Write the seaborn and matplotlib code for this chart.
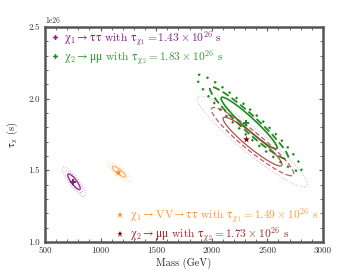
import numpy as np
import pandas as pd
import matplotlib
matplotlib.use("Agg")
import matplotlib.pyplot as plt
import seaborn as sns

sns.set_style("ticks")
plt.rcParams['font.family'] = ['cmr10', 'DejaVu Serif']
plt.rcParams['mathtext.fontset'] = 'custom'
plt.rcParams['mathtext.rm'] = 'cmr10'
plt.rcParams['mathtext.it'] = 'cmr10'
plt.rcParams['mathtext.default'] = 'rm'
plt.rcParams['mathtext.fallback'] = 'stix'
plt.rcParams['axes.formatter.use_mathtext'] = False
plt.rcParams['axes.unicode_minus'] = False

# posterior summaries (mass in GeV, lifetime in 1e26 s)
series = ['chi1_tautau', 'chi1_VV', 'chi2_mumu_a', 'chi2_mumu_b']
center_mass = [761, 1165, 2336, 2367]
center_tau = [1.42, 1.49, 1.83, 1.70]
sd_mass = [56, 60, 252, 265]
sd_tau = [0.055, 0.037, 0.18, 0.17]
rho = [-0.86, -0.85, -0.955, -0.94]
levels = [1.0, 1.4, 1.87]

# best-fit points
best_mass = [752, 1157, 2309, 2309]
best_tau = [1.42, 1.49, 1.83, 1.72]
markers = ['P', '*', 'P', '*']

labels = [r'$\chi_1 \rightarrow \tau\tau$ with $\tau_{\chi_1} = 1.43 \times 10^{26}$ s',
          r'$\chi_1 \rightarrow VV\!\rightarrow \tau\tau$ with $\tau_{\chi_1} = 1.49 \times 10^{26}$ s',
          r'$\chi_2 \rightarrow \mu\mu$ with $\tau_{\chi_2} = 1.83 \times 10^{26}$ s',
          r'$\chi_2 \rightarrow \mu\mu$ with $\tau_{\chi_2} = 1.73 \times 10^{26}$ s']
line_colors = ['#8B1A8B', '#FF9933', '#1E8C1E', '#B03A3A']
marker_colors = ['#8B1A8B', '#FF8C1A', '#1E8C1E', '#8B0000']
text_colors = ['#8B1A8B', '#FF9933', '#2E9B2E', '#A52A2A']
level_styles = [
    ['-', (0, (1, 2)), (0, (1, 2))],
    ['-', (0, (1, 2)), (0, (1, 2))],
    ['-', (0, (4, 2)), (0, (1, 3))],
    ['-', (0, (4, 2)), (0, (1, 2))],
]
level_widths = [
    [1.0, 0.6, 0.6],
    [0.8, 0.6, 0.6],
    [1.2, 1.3, 1.6],
    [0.9, 0.9, 0.6],
]
level_alpha = [
    [0.9, 0.6, 0.5],
    [0.8, 0.6, 0.5],
    [1.0, 1.0, 1.0],
    [0.9, 0.8, 0.5],
]

fig, ax = plt.subplots(figsize=(3.6, 2.7), dpi=100)
fig.subplots_adjust(left=0.125, right=0.897, bottom=0.104, top=0.9)

mgrid = np.linspace(500, 3000, 700)
tgrid = np.linspace(1.0, 2.5, 500)
M, T = np.meshgrid(mgrid, tgrid)
for i in range(len(series)):
    zx = (M - center_mass[i]) / sd_mass[i]
    zy = (T - center_tau[i]) / sd_tau[i]
    d = np.sqrt((zx**2 - 2 * rho[i] * zx * zy + zy**2) / (1 - rho[i]**2))
    for j, lev in enumerate(levels):
        ax.contour(M, T * 1e26, d, levels=[lev], colors=[line_colors[i]],
                   linestyles=[level_styles[i][j]], linewidths=level_widths[i][j],
                   alpha=level_alpha[i][j])

best = pd.DataFrame({'mass': best_mass, 'tau': np.array(best_tau) * 1e26, 'label': labels})
handles = []
for i in range(len(series)):
    sns.scatterplot(data=best.iloc[[i]], x='mass', y='tau', marker=markers[i],
                    color=marker_colors[i], s=28 if markers[i] == '*' else 14,
                    linewidth=0, ax=ax, zorder=5)
    h = plt.Line2D([], [], marker=markers[i], color=marker_colors[i], linestyle='',
                   markersize=5 if markers[i] == '*' else 3.5, markeredgewidth=0)
    handles.append(h)

ax.set_xlim(500, 3000)
ax.set_ylim(1.0e26, 2.5e26)
ax.set_xticks(np.arange(500, 3001, 500))
ax.set_yticks(np.arange(1.0e26, 2.51e26, 0.5e26))
ax.xaxis.set_minor_locator(matplotlib.ticker.MultipleLocator(100))
ax.yaxis.set_minor_locator(matplotlib.ticker.MultipleLocator(0.1e26))
ax.tick_params(which='both', direction='in', top=True, right=True, labelsize=6.5,
               color='#555555', labelcolor='#333333')
ax.tick_params(which='major', length=3, width=0.8)
ax.tick_params(which='minor', length=2, width=0.6)
ax.yaxis.get_offset_text().set_fontsize(5.5)
for s in ax.spines.values():
    s.set_linewidth(1.8)
    s.set_color('#555555')

ax.set_xlabel('Mass (GeV)', fontsize=7.5, labelpad=2)
ax.set_ylabel(r'$\tau_\chi$ (s)', fontsize=7.5, labelpad=6)

leg1 = ax.legend([handles[0], handles[2]], [labels[0], labels[2]], loc='upper left',
                 bbox_to_anchor=(0, 1.02), frameon=False, fontsize=8.3,
                 handlelength=0.6, handletextpad=0.5, borderaxespad=0.15,
                 labelspacing=0.0)
for t, c in zip(leg1.get_texts(), [text_colors[0], text_colors[2]]):
    t.set_color(c)
ax.add_artist(leg1)
leg2 = ax.legend([handles[1], handles[3]], [labels[1], labels[3]], loc='lower right',
                 bbox_to_anchor=(1, -0.035), frameon=False, fontsize=8.3,
                 handlelength=0.6, handletextpad=0.5, borderaxespad=0.05,
                 labelspacing=0.0)
for t, c in zip(leg2.get_texts(), [text_colors[1], text_colors[3]]):
    t.set_color(c)
    t.set_ha('left')

fig.savefig('out.png', dpi=100)
